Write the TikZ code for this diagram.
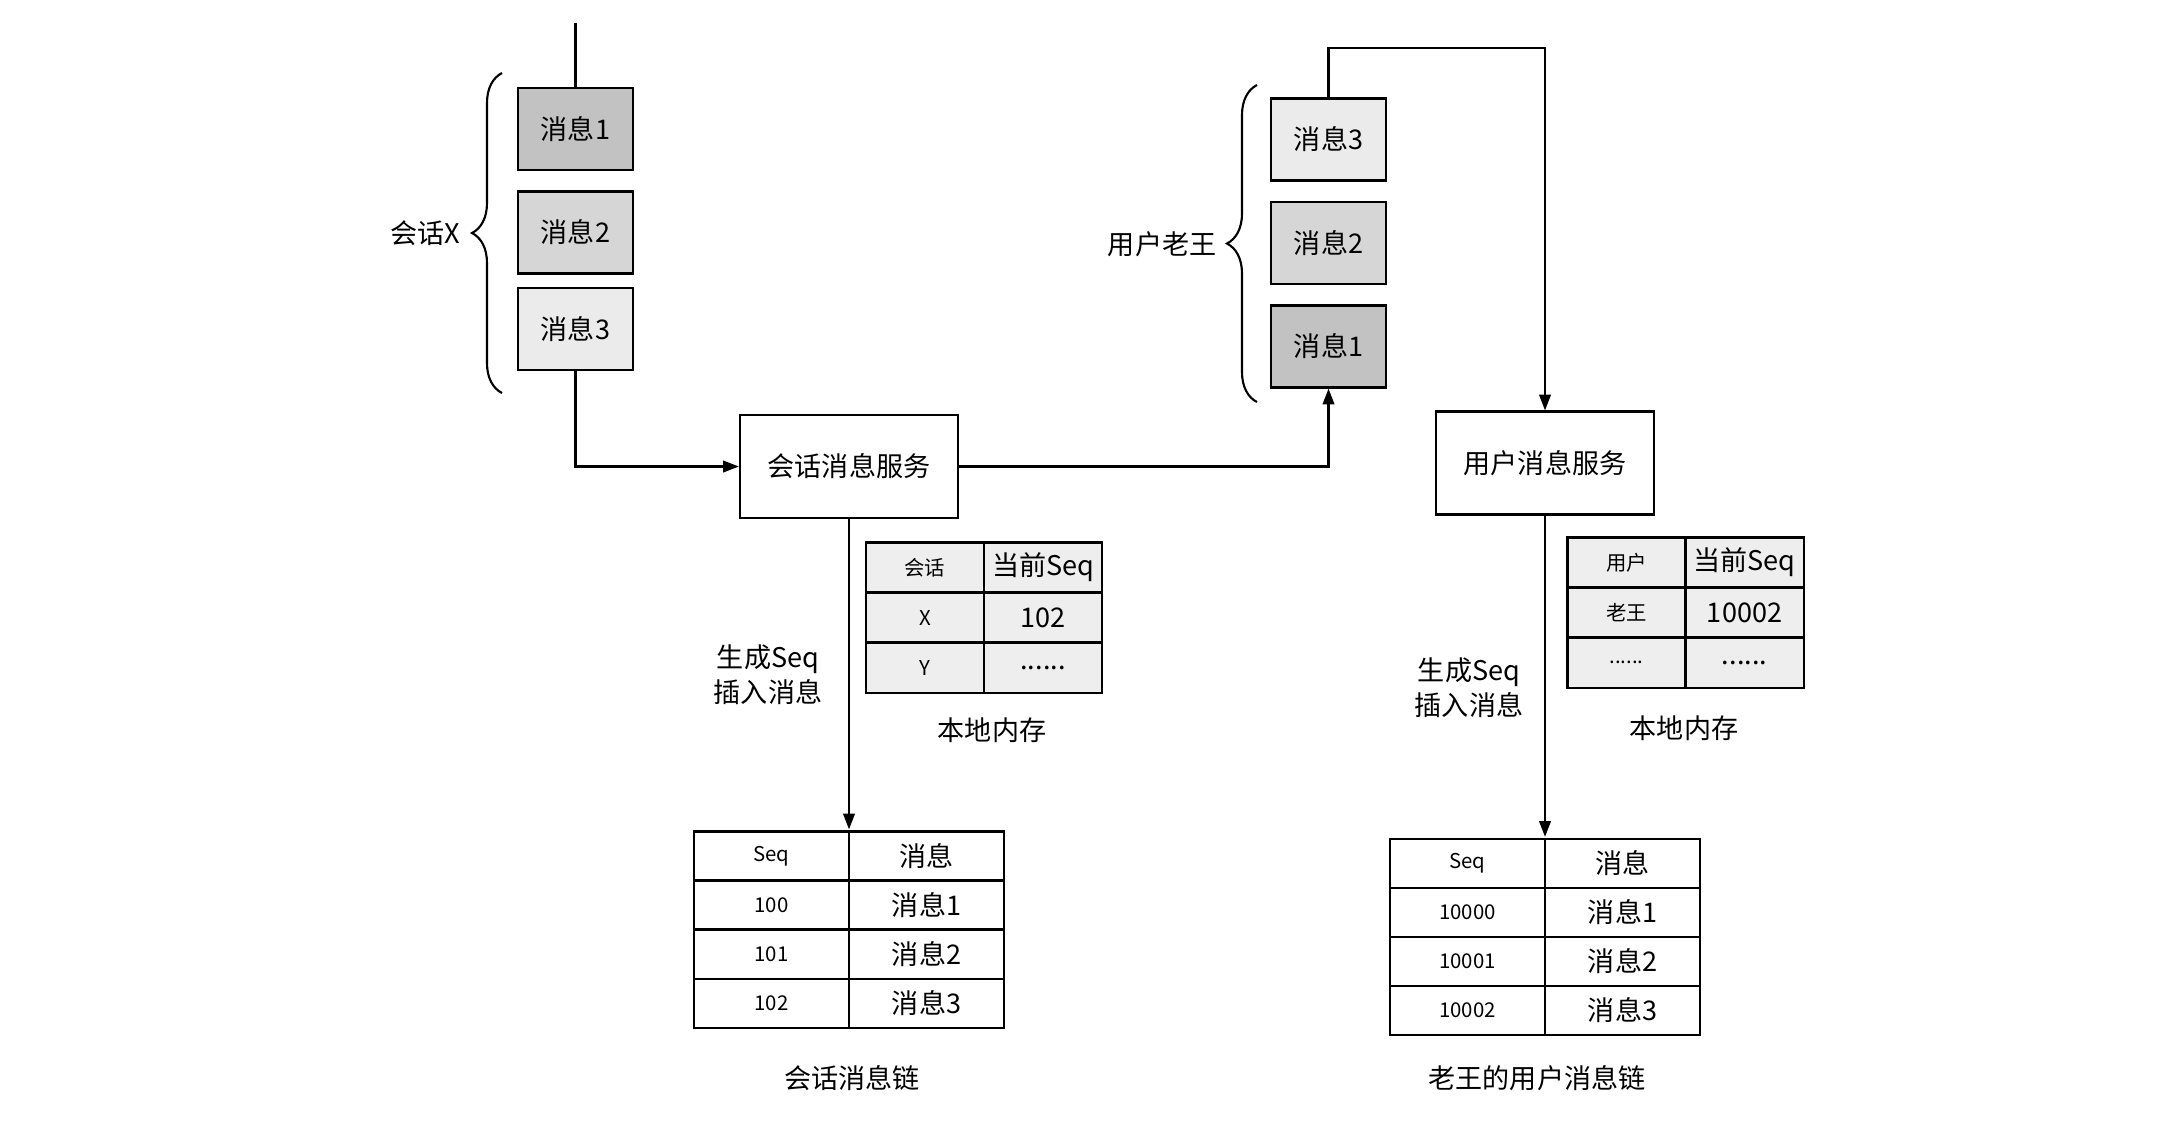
\documentclass[tikz,border=0pt]{standalone}
\usepackage{fontspec}
\setmainfont{Noto Sans CJK SC}
\usepackage{xcolor}
\definecolor{msgdark}{HTML}{C2C2C2}
\definecolor{msgmid}{HTML}{D6D6D6}
\definecolor{msglight}{HTML}{EBEBEB}
\definecolor{memfill}{HTML}{EEEEEE}
\usetikzlibrary{arrows.meta,matrix,decorations.pathreplacing}
\newcommand{\lbltxt}{\fontsize{7.7pt}{10pt}\selectfont}
\newcommand{\tinytxt}{\fontsize{5.8pt}{7pt}\selectfont}

\begin{document}
\begin{tikzpicture}[
      x=0.01cm, y=-0.01cm,
      >={Triangle[length=4.5pt,width=3.3pt]},
      line width=0.6pt,
      every node/.style={font=\lbltxt},
      msg/.style={draw, fill=#1, minimum width=1.15cm, minimum height=0.82cm, inner sep=0pt},
      svc/.style={draw, minimum width=2.18cm, minimum height=1.03cm, inner sep=0pt},
      memtab/.style={matrix of nodes, inner sep=0pt, column sep=-0.6pt, row sep=-0.6pt,
        nodes={draw, fill=memfill, minimum width=1.18cm, minimum height=0.5cm, inner sep=0pt, anchor=center}},
      chaintab/.style={matrix of nodes, inner sep=0pt, column sep=-0.6pt, row sep=-0.6pt,
        nodes={draw, fill=white, minimum width=1.55cm, minimum height=0.49cm, inner sep=0pt, anchor=center}},
      small/.style={font=\tinytxt},
      arr/.style={->},
      brace/.style={decorate, decoration={brace, amplitude=0.3cm}},
    ]
      \useasboundingbox (0,0) rectangle (2161,1120);

      % conversation side
      \coordinate (cin) at (575.5,23);
      \node[msg=msgdark] (cmsg1) at (575.5,129) {消息1};
      \node[msg=msgmid] (cmsg2) at (575.5,232.5) {消息2};
      \node[msg=msglight] (cmsg3) at (575.5,329) {消息3};
      \draw (cin) -- (cmsg1.north);
      \draw[brace] (502,393) -- (502,73);
      \node[anchor=east] (convlbl) at (473,233) {会话X};

      \node[svc] (convsvc) at (849,466.5) {会话消息服务};
      \draw[arr] (cmsg3.south) |- (convsvc.west);

      \matrix (convmem) [memtab] at (984,617.5) {
        |[small]| 会话 & 当前Seq \\
        |[small]| X & 102 \\
        |[small]| Y & ...... \\
      };
      \node[align=center] (convgen) at (768,675) {生成Seq\\插入消息};
      \node (convmemlbl) at (992,730) {本地内存};

      \matrix (convchain) [chaintab] at (849,929.5) {
        |[small]| Seq & 消息 \\
        |[small]| 100 & 消息1 \\
        |[small]| 101 & 消息2 \\
        |[small]| 102 & 消息3 \\
      };
      \node (convchainlbl) at (852,1078) {会话消息链};
      \draw[arr] (convsvc.south) -- (convchain.north);

      % user side
      \node[msg=msglight] (umsg3) at (1328.5,139.5) {消息3};
      \node[msg=msgmid] (umsg2) at (1328.5,243) {消息2};
      \node[msg=msgdark] (umsg1) at (1328.5,346.5) {消息1};
      \draw[brace] (1257,402) -- (1257,85);
      \node[anchor=east] (userlbl) at (1229,244) {用户老王};
      \draw[arr] (convsvc.east) -| (umsg1.south);

      \node[svc] (usersvc) at (1545,463) {用户消息服务};
      \coordinate (ubend) at (1545,48);
      \draw[arr] (umsg3.north) |- (ubend) -- (usersvc.north);

      \matrix (usermem) [memtab] at (1685.5,612.5) {
        |[small]| 用户 & 当前Seq \\
        |[small]| 老王 & 10002 \\
        |[small]| ...... & ...... \\
      };
      \node[align=center] (usergen) at (1469,688) {生成Seq\\插入消息};
      \node (usermemlbl) at (1684,728) {本地内存};

      \matrix (userchain) [chaintab] at (1545,937) {
        |[small]| Seq & 消息 \\
        |[small]| 10000 & 消息1 \\
        |[small]| 10001 & 消息2 \\
        |[small]| 10002 & 消息3 \\
      };
      \node (userchainlbl) at (1537,1078) {老王的用户消息链};
      \draw[arr] (usersvc.south) -- (userchain.north);
    \end{tikzpicture}
\end{document}
